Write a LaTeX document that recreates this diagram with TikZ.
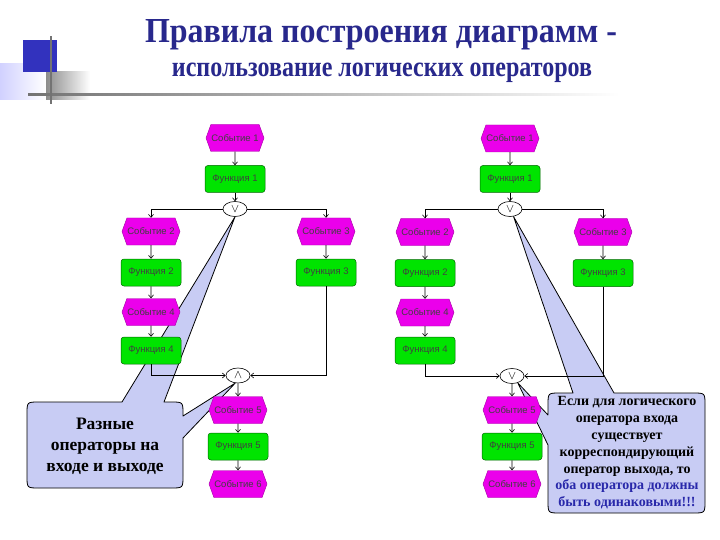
\documentclass[tikz,border=0pt]{standalone}
\usepackage{fontspec}
\setmainfont{Liberation Serif}
\newfontfamily\arialf{Liberation Sans}
\usetikzlibrary{shapes.symbols,shapes.geometric,arrows.meta,calc}
\pgfdeclarelayer{background}
\pgfsetlayers{background,main}
\definecolor{evt}{RGB}{235,0,235}
\definecolor{fnc}{RGB}{0,228,0}
\definecolor{ttl}{RGB}{40,40,140}
\definecolor{call}{RGB}{200,204,244}
\definecolor{calltxt}{RGB}{40,40,170}
\definecolor{decoblue}{RGB}{50,50,190}
\begin{document}
\begin{tikzpicture}[x=1pt,y=-1pt,
 evbox/.style={signal, signal to=west and east, signal pointer angle=140, fill=evt, draw=evt!70!black, line width=0.4pt, minimum width=58pt, minimum height=27pt, inner sep=0pt, font=\arialf\fontsize{9.5}{10}\selectfont, text=black!75},
 fnbox/.style={rectangle, rounded corners=3pt, fill=fnc, draw=fnc!45!black, line width=0.5pt, minimum width=60pt, minimum height=27pt, inner sep=0pt, font=\arialf\fontsize{9.5}{10}\selectfont, text=black!75},
 opnode/.style={ellipse, draw, fill=white, line width=0.6pt, minimum width=24pt, minimum height=15pt, inner sep=0pt, font=\large},
 flow/.style={draw, line width=0.6pt, -{Straight Barb[length=3pt,width=5pt]}},
 callout/.style={fill=call, draw=black, line width=0.8pt, line join=round}
]
\useasboundingbox (0,0) rectangle (720,540);

% decoration
\shade[left color=blue!18, right color=white] (0,64) rectangle (46,100);
\shade[left color=black!45, right color=white] (46,72) rectangle (90,100);
\fill[decoblue] (23,40) rectangle (57,72);
\shade[left color=black!55, right color=white] (28,93.5) rectangle (620,96);
\fill[black!55] (50,36) rectangle (52.2,104);

% title
\node[anchor=base, text=ttl, inner sep=0pt] (title) at (381,43) {\resizebox{472pt}{23pt}{\bfseries Правила построения диаграмм -}};
\node[anchor=base, text=ttl, inner sep=0pt] (subtitle) at (382,77) {\resizebox{420pt}{13.5pt}{\bfseries использование логических операторов}};

% left diagram
\node[evbox] (E1) at (235,138) {Событие 1};
\node[fnbox] (F1) at (235,179) {Функция 1};
\node[opnode] (op1) at (235,209) {$\vee$};
\node[evbox] (E2) at (151,231.5) {Событие 2};
\node[evbox] (E3) at (326,231.5) {Событие 3};
\node[fnbox] (F2) at (151,272.5) {Функция 2};
\node[fnbox] (F3) at (326,272.5) {Функция 3};
\node[evbox] (E4) at (151,312) {Событие 4};
\node[fnbox] (F4) at (151,350.5) {Функция 4};
\node[opnode] (op2) at (238,375.5) {$\wedge$};
\node[evbox] (E5) at (238,410) {Событие 5};
\node[fnbox] (F5) at (238,446.5) {Функция 5};
\node[evbox] (E6) at (238,484) {Событие 6};

\draw[flow] (E1) -- (F1);
\draw[flow] (F1) -- (op1);
\draw[flow] (op1.west) -| (E2.north);
\draw[flow] (op1.east) -| (E3.north);
\draw[flow] (E2) -- (F2);
\draw[flow] (F2) -- (E4);
\draw[flow] (E4) -- (F4);
\draw[flow] (E3) -- (F3);
\draw[flow] (F4.south) |- (op2.west);
\draw[flow] (F3.south) |- (op2.east);
\draw[flow] (op2) -- (E5);
\draw[flow] (E5) -- (F5);
\draw[flow] (F5) -- (E6);

% right diagram
\node[evbox] (R1) at (510,138.5) {Событие 1};
\node[fnbox] (G1) at (510,179) {Функция 1};
\node[opnode] (op3) at (510,209) {$\vee$};
\node[evbox] (R2) at (425,232) {Событие 2};
\node[evbox] (R3) at (603,232) {Событие 3};
\node[fnbox] (G2) at (425,273) {Функция 2};
\node[fnbox] (G3) at (603,273) {Функция 3};
\node[evbox] (R4) at (425,312.5) {Событие 4};
\node[fnbox] (G4) at (425,350.5) {Функция 4};
\node[opnode] (op4) at (512,376) {$\vee$};
\node[evbox] (R5) at (512,410) {Событие 5};
\node[fnbox] (G5) at (512,446.5) {Функция 5};
\node[evbox] (R6) at (512,484) {Событие 6};

\draw[flow] (R1) -- (G1);
\draw[flow] (G1) -- (op3);
\draw[flow] (op3.west) -| (R2.north);
\draw[flow] (op3.east) -| (R3.north);
\draw[flow] (R2) -- (G2);
\draw[flow] (G2) -- (R4);
\draw[flow] (R4) -- (G4);
\draw[flow] (R3) -- (G3);
\draw[flow] (G4.south) |- (op4.west);
\draw[flow] (G3.south) |- (op4.east);
\draw[flow] (op4) -- (R5);
\draw[flow] (R5) -- (G5);
\draw[flow] (G5) -- (R6);

% callouts
\begin{pgfonlayer}{background}
\fill[white] (0,0) rectangle (720,540);
\path[callout] (39,402) -- (122,402) -- (op1.south) -- (164,402) -- (171,402)
  .. controls (183,402) .. (183,414) -- (183,416) -- (op2.250) -- (183,438) -- (183,476)
  .. controls (183,488) .. (171,488) -- (39,488)
  .. controls (27,488) .. (27,476) -- (27,414)
  .. controls (27,402) .. (39,402) -- cycle;
\path[callout] (560,393) -- (573,393) -- (op3.295) -- (614,393) -- (693,393)
  .. controls (705,393) .. (705,405) -- (705,501)
  .. controls (705,513) .. (693,513) -- (560,513)
  .. controls (548,513) .. (548,501) -- (548,445) -- (op4.310) -- (548,415) -- (548,405)
  .. controls (548,393) .. (560,393) -- cycle;
\end{pgfonlayer}

\node[align=center, font=\bfseries\fontsize{17.5}{21}\selectfont, inner sep=0pt] (note1) at (105,446) {Разные\\операторы на\\входе и выходе};
\node[align=center, font=\bfseries\fontsize{14}{16.8}\selectfont, inner sep=0pt] (note2) at (627,453) {Если для логического\\оператора входа\\существует\\корреспондирующий\\оператор выхода, то\\\textcolor{calltxt}{оба оператора должны}\\\textcolor{calltxt}{быть одинаковыми!!!}};
\end{tikzpicture}
\end{document}
